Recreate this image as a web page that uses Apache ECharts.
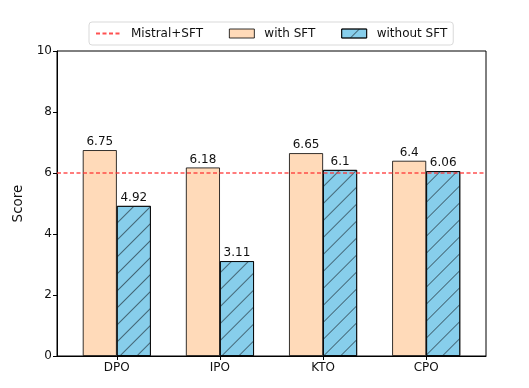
<!DOCTYPE html>
<html><head><meta charset="utf-8">
<script src="https://cdn.jsdelivr.net/npm/echarts@6/dist/echarts.min.js"></script>
<style>html,body{margin:0;padding:0;background:#fff}#c{width:529px;height:388px}</style>
</head><body><div id="c"></div>
<script>
const categories = ['DPO', 'IPO', 'KTO', 'CPO'];
const withSFT = [6.75, 6.18, 6.65, 6.4];
const withoutSFT = [4.92, 3.11, 6.1, 6.06];
const mistralSFT = 6.0;
const yTicks = [0, 2, 4, 6, 8, 10];

const off = 0.165;
const xMin = -0.58, xMax = 3.58;
const font = 'DejaVu Sans';
const chart = echarts.init(document.getElementById('c'));
const catIdx = categories.map((_, i) => i);
chart.setOption({
  animation: false,
  textStyle: {fontFamily: font},
  grid: {left: 57, right: 43, top: 51, bottom: 32, show: true, borderColor: '#000', borderWidth: 1, backgroundColor: 'transparent'},
  legend: {
    left: 89, top: 22, itemWidth: 25, itemHeight: 9, itemGap: 26,
    borderColor: '#d9d9d9', borderWidth: 1, borderRadius: 3, padding: [5, 6, 5, 6],
    textStyle: {fontSize: 12, lineHeight: 13, color: '#111', fontFamily: font, padding: [0, 0, 0, 5]},
    data: [
      {name: 'Mistral+SFT', itemStyle: {color: 'transparent', borderWidth: 0}},
      {name: 'with SFT', icon: 'rect', itemStyle: {borderWidth: 0.8, borderColor: '#000'}},
      {name: 'without SFT', icon: 'rect', itemStyle: {borderWidth: 0.8, borderColor: '#000'}}
    ]
  },
  xAxis: {
    type: 'value', min: xMin, max: xMax,
    splitLine: {show: false},
    axisLine: {show: true, onZero: false, lineStyle: {color: '#000'}},
    axisTick: {show: true, customValues: catIdx, length: 4, lineStyle: {color: '#000'}},
    axisLabel: {customValues: catIdx, formatter: v => categories[Math.round(v)], fontSize: 12, color: '#111', margin: 6, fontFamily: font}
  },
  yAxis: {
    type: 'value', min: 0, max: 10, interval: 2,
    name: 'Score', nameLocation: 'middle', nameGap: 28,
    nameTextStyle: {fontSize: 13.5, color: '#111', fontFamily: font},
    splitLine: {show: false},
    axisLine: {show: true, onZero: false, lineStyle: {color: '#000'}},
    axisTick: {show: true, length: 4, lineStyle: {color: '#000'}},
    axisLabel: {fontSize: 12, color: '#111', margin: 5, fontFamily: font, formatter: v => yTicks.includes(v) ? String(v) : ''}
  },
  series: [
    {
      name: 'Mistral+SFT', type: 'line', symbol: 'none', z: 5,
      lineStyle: {color: 'rgba(255,50,50,0.85)', type: [4, 2.5], width: 1.5},
      itemStyle: {color: 'rgba(255,50,50,0.85)'},
      data: [[xMin, mistralSFT], [xMax, mistralSFT]]
    },
    {
      name: 'with SFT', type: 'bar', barWidth: 34, barGap: '-100%',
      itemStyle: {color: '#FFDAB9', borderColor: '#000', borderWidth: 0.8},
      label: {show: true, position: 'top', distance: 2, fontSize: 12, color: '#111', fontFamily: font},
      data: withSFT.map((v, i) => [i - off, v])
    },
    {
      name: 'without SFT', type: 'bar', barWidth: 34, barGap: '-100%',
      itemStyle: {color: '#87CEEB', borderColor: '#000', borderWidth: 0.8,
        decal: {symbol: 'rect', symbolSize: 1, color: 'rgba(40,60,70,0.7)', dashArrayX: [[1, 0]], dashArrayY: [1, 11], rotation: -Math.PI / 4}},
      label: {show: true, position: 'top', distance: 2, fontSize: 12, color: '#111', fontFamily: font},
      data: withoutSFT.map((v, i) => [i + off, v])
    }
  ]
});
</script></body></html>
